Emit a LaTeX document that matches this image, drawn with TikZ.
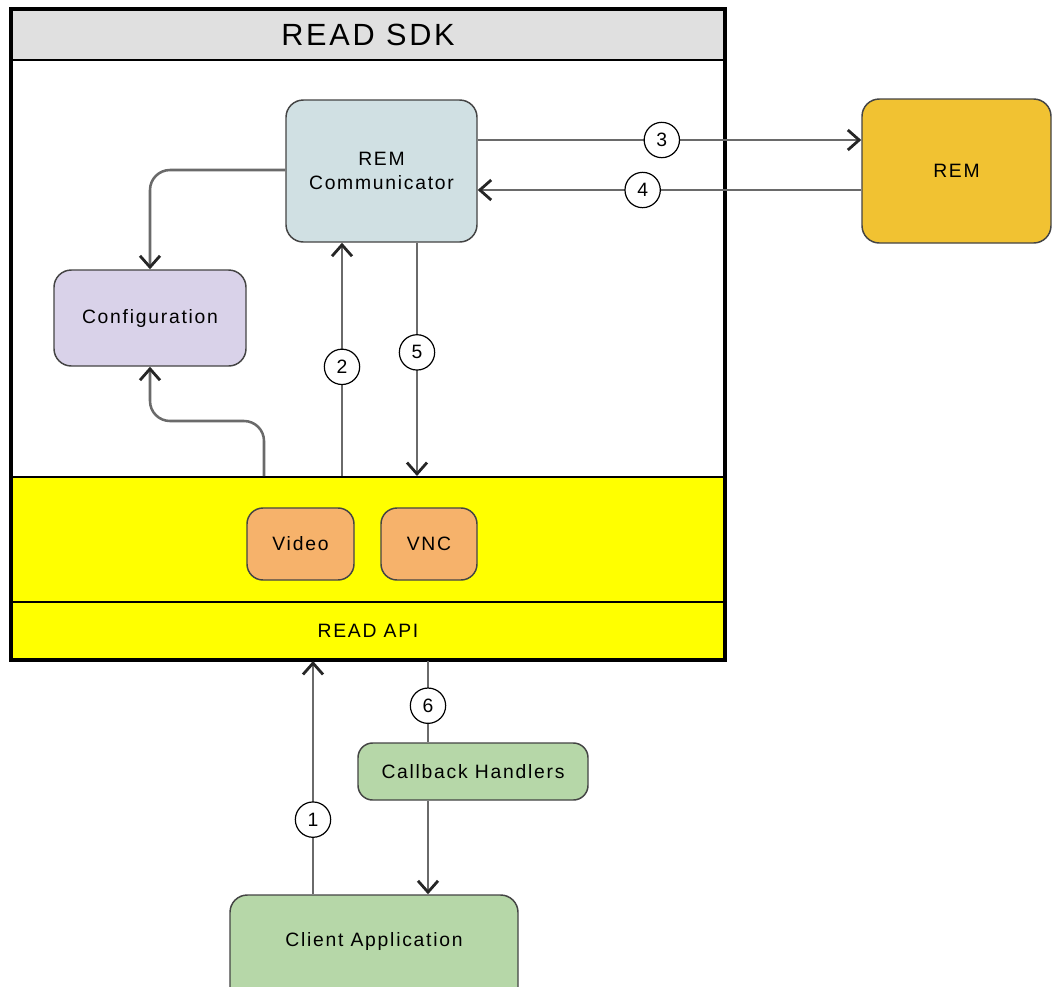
\documentclass[tikz,border=0pt]{standalone}
\usepackage{fontspec}
\setmainfont{Liberation Sans}[LetterSpace=9]
\usetikzlibrary{arrows.meta,positioning}
\definecolor{hdr}{HTML}{E0E0E0}
\definecolor{commc}{HTML}{D0E0E3}
\definecolor{confc}{HTML}{D9D2E9}
\definecolor{remc}{HTML}{F1C232}
\definecolor{orc}{HTML}{F6B26B}
\definecolor{grc}{HTML}{B6D7A8}
\definecolor{ylc}{HTML}{FFFF00}
\definecolor{linec}{HTML}{6A6A6A}
\definecolor{edgec}{HTML}{444444}
\tikzset{
  sz/.style 2 args={minimum width=#1*0.75pt, minimum height=#2*0.75pt},
  lbl/.style={font=\fontsize{14.5}{17.5}\selectfont, align=center},
  box/.style={draw=edgec, line width=1.1pt, rounded corners=13pt, inner sep=0pt, lbl},
  flat/.style={draw=black, line width=2.2pt, inner sep=0pt, lbl},
  conn/.style={draw=linec, line width=1.9pt},
  arr/.style={-{Straight Barb[length=8.5pt,width=15pt,line width=2.1pt,color=black!85]}},
  num/.style={circle, draw=black, fill=white, line width=0.9pt, minimum size=26.5pt, inner sep=0pt, font=\fontsize{14.5}{14.5}\selectfont}
}
\begin{document}
\begin{tikzpicture}[x=0.75pt,y=-0.75pt]
\useasboundingbox (0,0) rectangle (1053,986);
\clip (0,0) rectangle (1053,986);
\fill[white] (0,0) rectangle (1053,986);
% SDK container
\node[flat, fill=white, sz={712}{649}] (sdk) at (368,334.5) {};
\node[flat, fill=hdr, sz={712}{50}, font=\fontsize{23}{26}\selectfont] (hdrbar) at (368,35) {READ SDK};
\node[flat, fill=ylc, sz={712}{125}] (band) at (368,539.5) {};
\node[flat, fill=ylc, sz={712}{57}] (api) at (368,630.5) {READ API};
\draw[line width=2.4pt] (sdk.north west) rectangle (sdk.south east);
% boxes
\node[box, fill=commc, sz={191}{142}] (comm) at (381.5,171) {REM\\Communicator};
\node[box, fill=confc, sz={192}{96}] (config) at (150,318) {Configuration};
\node[box, fill=remc, sz={189}{144}] (rem) at (956.5,171) {REM};
\node[box, fill=orc, rounded corners=12pt, sz={107}{72}] (video) at (300.5,544) {Video};
\node[box, fill=orc, rounded corners=12pt, sz={96}{72}] (vnc) at (429,544) {VNC};
\node[box, fill=grc, rounded corners=11pt, sz={230}{57}] (cb) at (473,771.5) {Callback Handlers};
\node[box, fill=grc, sz={288}{110}] (client) at (374,950) {};
\node[lbl] (clientlbl) at (374,941) {Client Application};
% connectors
\draw[conn, arr] (comm.east |- 0,140) -- node[num, pos=0.48] (n3) {3} (rem.west |- 0,140);
\draw[conn, arr] (rem.west |- 0,190) -- node[num, pos=0.57] (n4) {4} (comm.east |- 0,190);
\draw[conn, arr, rounded corners=15pt] (comm.west |- 0,170) -| (config.north);
\draw[conn, arr, rounded corners=15pt] (264,476) |- (150,421) -- (config.south);
\draw[conn, arr] (342,476) -- node[num, pos=0.468] (n2) {2} (comm.south -| 342,0);
\draw[conn, arr] (comm.south -| 417,0) -- node[num, pos=0.47] (n5) {5} (417,476);
\draw[conn, arr] (client.north -| 313,0) -- node[num, pos=0.32] (n1) {1} (313,661);
\draw[conn] (428,661) -- node[num, pos=0.55] (n6) {6} (cb.north -| 428,0);
\draw[conn, arr] (cb.south -| 428,0) -- (client.north -| 428,0);
\end{tikzpicture}
\end{document}
